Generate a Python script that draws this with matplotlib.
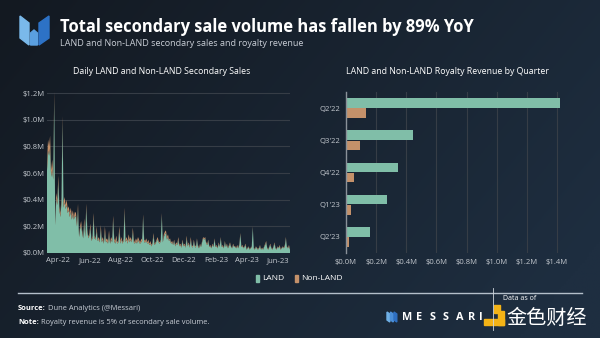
import matplotlib
matplotlib.use("Agg")
import matplotlib.pyplot as plt
import matplotlib.dates as mdates
from matplotlib.patches import Polygon, Rectangle
import numpy as np
import pandas as pd

plt.rcParams['font.family'] = ['Open Sans', 'DejaVu Sans']

# ---------------- data ----------------
start_date = "2022-03-11"
# daily secondary sales (sampled every 2 days), thousands of USD
land_k = [620, 770, 730, 790, 570, 630, 550, 1150, 210, 410,
          360, 540, 320, 270, 380, 980, 340, 380, 330, 360,
          300, 320, 270, 310, 250, 290, 250, 280, 270, 200,
          330, 120, 180, 210, 150, 110, 230, 120, 340, 160,
          110, 130, 190, 90, 110, 270, 110, 100, 170, 90,
          100, 80, 180, 80, 100, 70, 160, 80, 90, 70,
          140, 70, 100, 80, 250, 90, 70, 100, 70, 80,
          170, 70, 100, 70, 90, 310, 80, 100, 70, 110,
          80, 100, 80, 160, 80, 70, 90, 70, 100, 80,
          70, 80, 90, 270, 80, 80, 90, 70, 80, 60,
          70, 50, 70, 130, 60, 70, 90, 100, 80, 70,
          90, 280, 80, 120, 140, 150, 100, 120, 90, 100,
          70, 80, 60, 90, 50, 70, 60, 100, 50, 60,
          40, 90, 50, 60, 40, 110, 50, 70, 40, 100,
          50, 40, 90, 50, 40, 100, 50, 35, 60, 45,
          80, 110, 100, 110, 70, 60, 90, 45, 50, 35,
          60, 45, 100, 45, 50, 35, 70, 45, 110, 45,
          50, 35, 80, 45, 60, 35, 50, 70, 45, 35,
          60, 45, 45, 35, 50, 35, 60, 140, 45, 50,
          35, 45, 60, 25, 35, 45, 25, 35, 45, 190,
          35, 25, 45, 35, 25, 35, 50, 25, 35, 25,
          45, 60, 80, 35, 25, 45, 60, 35, 25, 45,
          70, 35, 25, 45, 35, 50, 25, 35, 45, 35,
          50, 110, 45, 35, 50, 25]
nonland_k = [60, 80, 70, 90, 50, 70, 50, 60, 20, 40,
             40, 40, 30, 30, 40, 50, 40, 40, 30, 40,
             30, 30, 30, 30, 30, 30, 20, 30, 30, 20,
             40, 10, 20, 30, 20, 10, 30, 20, 30, 20,
             10, 20, 30, 10, 20, 30, 20, 10, 30, 10,
             20, 10, 30, 20, 20, 10, 40, 20, 20, 20,
             30, 10, 20, 20, 30, 20, 20, 30, 10, 20,
             30, 20, 20, 10, 20, 30, 20, 20, 20, 30,
             20, 20, 10, 30, 20, 10, 20, 20, 20, 20,
             10, 20, 20, 20, 20, 10, 20, 10, 20, 10,
             20, 10, 10, 20, 10, 10, 10, 20, 10, 10,
             10, 20, 10, 20, 20, 20, 20, 20, 10, 10,
             10, 10, 10, 10, 10, 10, 10, 20, 10, 10,
             10, 10, 10, 10, 10, 20, 10, 10, 10, 20,
             10, 10, 10, 10, 10, 10, 10, 5, 10, 5,
             10, 10, 10, 10, 10, 10, 10, 5, 10, 5,
             10, 5, 10, 5, 10, 5, 10, 5, 10, 5,
             10, 5, 10, 5, 10, 5, 10, 10, 5, 5,
             10, 5, 5, 5, 10, 5, 10, 10, 5, 10,
             5, 5, 10, 5, 5, 5, 5, 5, 5, 10,
             5, 5, 5, 5, 5, 5, 10, 5, 5, 5,
             5, 10, 10, 5, 5, 5, 10, 5, 5, 5,
             10, 5, 5, 5, 5, 10, 5, 5, 5, 5,
             10, 10, 5, 5, 10, 5]

quarters = ["Q2'22", "Q3'22", "Q4'22", "Q1'23", "Q2'23"]
royalty_land_m = [1.418, 0.445, 0.346, 0.273, 0.161]
royalty_nonland_m = [0.134, 0.095, 0.053, 0.033, 0.022]

left_yticks = [0.0, 0.2, 0.4, 0.6, 0.8, 1.0, 1.2]
right_xticks = [0.0, 0.2, 0.4, 0.6, 0.8, 1.0, 1.2, 1.4]

# ---------------- style ----------------
C_LAND = "#80bea8"
C_NON = "#c4916a"
C_GRID = "#363d46"
C_TICK = "#c3c8ce"
W, H = 600, 338

fig = plt.figure(figsize=(6, 3.38), dpi=100)

# background gradient
bg = fig.add_axes([0, 0, 1, 1], zorder=-10)
gx = np.linspace(0, 1, 256)
gy = np.linspace(0, 1, 128)
GX, GY = np.meshgrid(gx, gy)
t = np.clip(0.75 * GX + 0.35 * GY, 0, 1)
c0 = np.array([0x13, 0x19, 0x21]) / 255
c1 = np.array([0x1e, 0x2e, 0x40]) / 255
img = c0[None, None, :] * (1 - t[..., None]) + c1[None, None, :] * t[..., None]
bg.imshow(img, extent=[0, W, H, 0], aspect='auto', origin='upper')
bg.set_xlim(0, W)
bg.set_ylim(H, 0)
bg.axis('off')

def fx(px):
    return px / W

def fy(py):
    return 1 - py / H

# ---------------- left chart ----------------
dates = pd.date_range(start_date, periods=len(land_k), freq="2D")
land_m = np.array(land_k) / 1000.0
non_m = np.array(nonland_k) / 1000.0

y0px, ypx_per_m = 253, 133.3
ax1 = fig.add_axes([fx(47), fy(y0px), fx(290) - fx(47), 1.25 * ypx_per_m / H])
ax1.set_facecolor("none")
ax1.stackplot(dates, land_m, non_m, colors=[C_LAND, C_NON], linewidth=0)
ax1.set_ylim(0, 1.25)
ax1.set_xlim(dates[0], dates[-1])
ax1.set_yticks(left_yticks)
ax1.set_yticklabels([f"${v:.1f}M" for v in left_yticks])
ax1.xaxis.set_major_locator(mdates.MonthLocator(bymonth=[2, 4, 6, 8, 10, 12]))
ax1.xaxis.set_major_formatter(mdates.DateFormatter("%b-%y"))
ax1.grid(axis='y', color=C_GRID, linewidth=0.8)
ax1.set_axisbelow(True)
for s in ax1.spines.values():
    s.set_visible(False)
ax1.tick_params(length=0, labelsize=5.5, colors=C_TICK, pad=3)
ax1.tick_params(axis='y', pad=1.5)

# ---------------- right chart ----------------
x0px, xpx_per_m = 346, 150.7
ax2 = fig.add_axes([fx(x0px), fy(253), 1.45 * xpx_per_m / W, (253 - 92) / H])
ax2.set_facecolor("none")
ypos = np.arange(len(quarters))
bh = 0.3
ax2.barh(ypos - bh / 2 - 0.01, royalty_land_m, height=bh, color=C_LAND)
ax2.barh(ypos + bh / 2 + 0.01, royalty_nonland_m, height=bh, color=C_NON)
ax2.set_ylim(len(quarters) - 0.5, -0.5)
ax2.set_xlim(0, 1.45)
ax2.set_yticks(ypos)
ax2.set_yticklabels(quarters)
ax2.set_xticks(right_xticks)
ax2.set_xticklabels([f"${v:.1f}M" for v in right_xticks])
ax2.grid(axis='x', color=C_GRID, linewidth=0.8)
ax2.set_axisbelow(True)
for k, s in ax2.spines.items():
    s.set_visible(k == 'left')
ax2.spines['left'].set_color("#8a9199")
ax2.spines['left'].set_linewidth(1.0)
ax2.tick_params(length=0, labelsize=5.5, colors=C_TICK, pad=4)

# ---------------- texts ----------------
fig.text(fx(60), fy(27), "Total secondary sale volume has fallen by 89% YoY",
         color="white", fontsize=11.9, fontweight="bold", va="center", ha="left")
fig.text(fx(60), fy(43), "LAND and Non-LAND secondary sales and royalty revenue",
         color="#c9ced6", fontsize=6.5, va="center", ha="left")
fig.text(fx(162), fy(71), "Daily LAND and Non-LAND Secondary Sales",
         color="white", fontsize=6.3, va="center", ha="center")
fig.text(fx(447), fy(71), "LAND and Non-LAND Royalty Revenue by Quarter",
         color="white", fontsize=6.3, va="center", ha="center")

# legend
bg.add_patch(Rectangle((256, 275), 3, 7, color=C_LAND))
bg.text(262, 279, "LAND", color="white", fontsize=6, va="center", ha="left")
bg.add_patch(Rectangle((295, 275), 3, 7, color=C_NON))
bg.text(301, 279, "Non-LAND", color="white", fontsize=6, va="center", ha="left")

# footer
bg.plot([18, 582], [293, 293], color="#b4bfca", linewidth=1.0)
bg.plot([493, 493], [288, 330], color="#d0d6dc", linewidth=0.6)
FS = 5.4
s1 = bg.text(18, 308, "Source:", color="white", fontsize=FS, fontweight="bold", va="center")
bg.annotate(" Dune Analytics (@Messari)", xy=(1, 0.5), xycoords=s1, color="#c9ced6",
            fontsize=FS, va="center", ha="left")
n1 = bg.text(18, 322, "Note:", color="white", fontsize=FS, fontweight="bold", va="center")
bg.annotate(" Royalty revenue is 5% of secondary sale volume.", xy=(1, 0.5), xycoords=n1,
            color="#c9ced6", fontsize=FS, va="center", ha="left")

# MESSARI wordmark
for ch, xp in zip("MESSARI", [402, 416, 430, 443, 456, 468, 479]):
    bg.text(xp, 317, ch, color="white", fontsize=7.8, fontweight="bold", va="center", ha="left")
bg.text(503, 299, "Data as of", color="white", fontsize=5.0, va="center")

# small messari icon in footer
for dx, col in [(0, "#6fb0e6"), (3.5, "#4b8fd8"), (7.0, "#2f70c2")]:
    bg.add_patch(Polygon([[387 + dx, 312], [389.8 + dx, 314], [389.8 + dx, 322], [387 + dx, 320]],
                         closed=True, color=col))

# header messari logo
bg.add_patch(Polygon([[20, 16], [29, 23], [29, 45], [20, 38]], closed=True, color="#7ab9ea"))
bg.add_patch(Polygon([[30.5, 33], [34, 30], [37.5, 33], [37.5, 45], [30.5, 45]],
                     closed=True, color="#5a9fe0"))
bg.add_patch(Polygon([[39, 23], [49, 16], [49, 38], [39, 45]], closed=True, color="#2d72c6"))

# watermark
bg.add_patch(Rectangle((494, 305), 6, 8, color="#f4b316"))
bg.add_patch(Rectangle((484, 319), 20, 6, color="#f4b316"))
bg.add_patch(Rectangle((498, 311), 6, 14, color="#f4b316"))
bg.text(506, 318, "金色财经", color="white", fontsize=14.5,
        family=["Noto Sans CJK SC", "DejaVu Sans"], va="center", ha="left")

fig.savefig("out.png", dpi=100)
